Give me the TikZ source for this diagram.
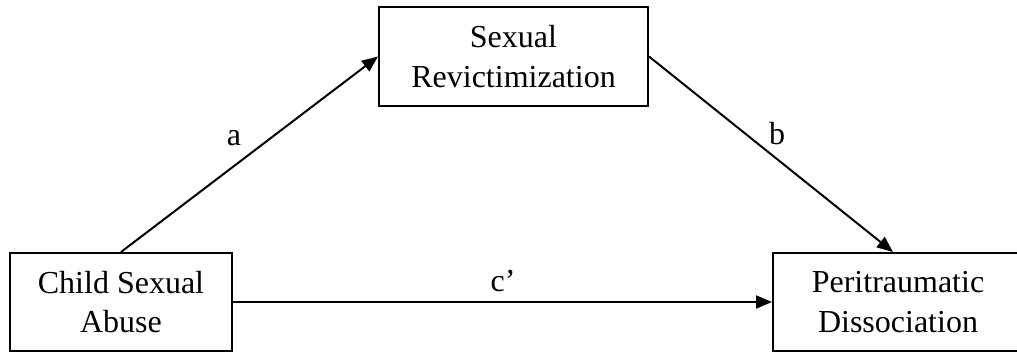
\documentclass[tikz,border=0pt]{standalone}
\usepackage{fontspec}
\setmainfont{Liberation Serif}
\usetikzlibrary{arrows.meta}
\begin{document}
\begin{tikzpicture}[x=1pt,y=-1pt,
  box/.style={draw=black, line width=2pt, align=center, inner sep=0pt,
    font=\fontsize{32}{39.5}\selectfont},
  lbl/.style={inner sep=0pt, font=\fontsize{32}{39.5}\selectfont},
  arr/.style={line width=2pt, -{Triangle[length=16pt,width=13pt]}}]
\useasboundingbox (0,0) rectangle (1017,354);
\node[box, minimum width=222pt, minimum height=98pt] (csa) at (121,302) {Child Sexual\\Abuse};
\node[box, minimum width=269pt, minimum height=99pt] (sr) at (513.5,56.5) {Sexual\\Revictimization};
\node[box, minimum width=250pt, minimum height=98pt] (pd) at (898,302) {Peritraumatic\\Dissociation};
\draw[arr] (csa.north) -- (sr.west);
\draw[arr] (sr.east) -- ([xshift=-5pt]pd.north);
\draw[arr] (csa.east) -- (pd.west);
\node[lbl, anchor=base] (la) at (234,145) {a};
\node[lbl, anchor=base] (lb) at (777,144) {b};
\node[lbl, anchor=base] (lc) at (503,291) {c’};
\end{tikzpicture}
\end{document}
